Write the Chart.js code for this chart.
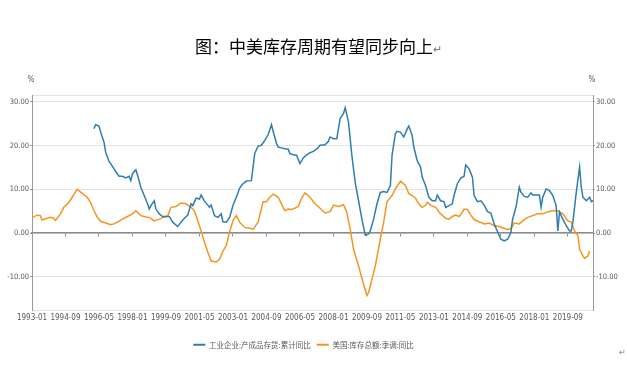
<!DOCTYPE html>
<html><head><meta charset="utf-8">
<script src="https://cdn.jsdelivr.net/npm/chart.js@4"></script>
<style>
html,body{margin:0;padding:0;background:#fff;}
#wrap{position:relative;width:627px;height:383px;overflow:hidden;background:#fff;}
canvas{position:absolute;left:0;top:0;}
#title{position:absolute;left:195px;top:36px;font-family:"Noto Sans CJK SC";font-size:17px;color:#000;white-space:nowrap;line-height:20px;}
#title span{font-size:11px;color:#777;}
#pm{position:absolute;left:619px;top:346px;font-family:"Noto Sans CJK SC";font-size:8px;color:#777;}
</style></head><body>
<div id="wrap"><canvas id="c" width="627" height="383"></canvas>
<div id="title">图：中美库存周期有望同步向上<span>↵</span></div>
<div id="pm">↵</div></div>
<script>
// ---- categories (monthly, 1993-01 .. 2020-12) ----
const months = [];
for (let y = 1993; y <= 2020; y++) for (let m = 1; m <= 12; m++) months.push(y + '-' + String(m).padStart(2, '0'));
const xTickLabels = ['1993-01','1994-09','1996-05','1998-01','1999-09','2001-05','2003-01','2004-09','2006-05','2008-01','2009-09','2011-05','2013-01','2014-09','2016-05','2018-01','2019-09'];
const yTickValues = [-10, 0, 10, 20, 30];

// ---- series 1: 工业企业:产成品存货:累计同比 ----
const cnMonths = ['1996-02','1996-03','1996-05','1996-06','1996-08','1996-09','1996-11','1996-12','1997-02','1997-03','1997-05','1997-07','1997-09','1997-11','1997-12','1998-01','1998-03','1998-04','1998-06','1998-08','1998-10','1998-11','1998-12','1999-02','1999-03','1999-05','1999-07','1999-09','1999-11','2000-01','2000-04','2000-06','2000-08','2000-10','2000-12','2001-01','2001-03','2001-05','2001-06','2001-08','2001-10','2001-11','2001-12','2002-02','2002-04','2002-06','2002-07','2002-09','2002-11','2003-01','2003-03','2003-05','2003-07','2003-09','2003-12','2004-02','2004-04','2004-06','2004-08','2004-10','2004-12','2005-01','2005-03','2005-04','2005-06','2005-08','2005-10','2005-11','2006-01','2006-03','2006-05','2006-07','2006-09','2006-11','2007-01','2007-03','2007-05','2007-08','2007-10','2007-11','2008-01','2008-03','2008-05','2008-07','2008-08','2008-10','2008-12','2009-02','2009-04','2009-06','2009-08','2009-10','2009-11','2010-01','2010-03','2010-05','2010-07','2010-09','2010-11','2010-12','2011-02','2011-03','2011-05','2011-07','2011-09','2011-10','2011-12','2012-01','2012-03','2012-05','2012-06','2012-08','2012-10','2012-12','2013-02','2013-03','2013-05','2013-07','2013-08','2013-10','2013-12','2014-01','2014-03','2014-05','2014-07','2014-08','2014-10','2014-12','2015-01','2015-03','2015-05','2015-07','2015-09','2015-11','2016-01','2016-03','2016-05','2016-07','2016-09','2016-11','2016-12','2017-02','2017-04','2017-05','2017-07','2017-09','2017-11','2017-12','2018-02','2018-04','2018-05','2018-06','2018-08','2018-10','2018-12','2019-02','2019-03','2019-04','2019-06','2019-08','2019-10','2019-11','2019-12','2020-02','2020-04','2020-05','2020-06','2020-08','2020-10','2020-11','2020-12'];
const cnValues = [23.9,24.8,24.5,23.1,20.8,18.5,16.4,15.9,14.7,14.1,13.0,13.0,12.6,13.0,12.0,13.6,14.5,13.3,10.5,8.6,6.7,5.5,6.3,7.4,5.5,4.4,3.8,3.8,3.8,2.5,1.5,2.5,3.4,4.1,6.7,6.3,8.0,7.8,8.7,7.3,6.4,5.9,6.4,4.0,3.6,4.4,2.6,2.5,3.6,6.3,8.2,10.3,11.3,11.9,12.0,18.2,19.9,20.1,21.2,22.5,24.8,23.3,20.5,19.7,19.5,19.3,19.2,18.2,17.9,17.8,15.9,17.2,17.9,18.4,18.7,19.2,20.1,20.2,21.0,22.0,21.6,21.6,26.2,27.4,28.7,25.4,17.8,11.6,7.4,3.2,-0.5,-0.2,0.5,3.2,6.7,9.3,9.5,9.3,10.9,17.8,22.8,23.3,23.1,22.0,23.8,24.5,22.4,19.7,16.6,15.1,12.8,10.9,8.2,7.4,7.4,8.7,7.4,7.2,5.9,6.3,6.7,8.6,11.3,12.6,13.0,15.6,14.7,12.8,8.6,7.2,7.4,6.4,4.9,4.6,2.1,0.3,-1.4,-1.8,-1.4,0.2,3.2,5.9,10.5,9.3,8.4,8.2,9.2,8.7,8.7,8.7,5.9,8.2,10.1,9.7,8.6,6.3,0.5,4.8,3.2,1.7,0.5,0.5,2.5,9.3,15.1,10.5,8.2,7.4,8.2,7.2,7.4];

// ---- series 2: 美国:库存总额:季调:同比 ----
const usMonths = ['1993-01','1993-04','1993-06','1993-07','1993-10','1993-12','1994-02','1994-03','1994-06','1994-08','1994-11','1995-01','1995-04','1995-07','1995-10','1995-12','1996-02','1996-04','1996-06','1996-09','1996-12','1997-02','1997-04','1997-07','1997-10','1998-01','1998-03','1998-06','1998-09','1998-11','1999-02','1999-05','1999-08','1999-10','1999-12','2000-03','2000-06','2000-09','2000-12','2001-02','2001-04','2001-06','2001-08','2001-10','2001-12','2002-03','2002-05','2002-07','2002-09','2002-11','2003-01','2003-03','2003-05','2003-08','2003-11','2004-01','2004-04','2004-07','2004-09','2004-11','2005-01','2005-04','2005-06','2005-08','2005-10','2005-12','2006-02','2006-04','2006-06','2006-08','2006-11','2007-02','2007-05','2007-08','2007-11','2008-01','2008-04','2008-07','2008-09','2008-11','2009-01','2009-04','2009-07','2009-09','2009-10','2009-12','2010-02','2010-05','2010-07','2010-09','2010-12','2011-02','2011-05','2011-08','2011-10','2011-12','2012-02','2012-04','2012-06','2012-08','2012-09','2012-11','2013-02','2013-05','2013-08','2013-10','2013-12','2014-02','2014-04','2014-06','2014-07','2014-09','2014-11','2015-01','2015-04','2015-07','2015-10','2016-01','2016-04','2016-07','2016-09','2016-11','2017-01','2017-04','2017-06','2017-09','2017-12','2018-03','2018-06','2018-09','2018-12','2019-03','2019-06','2019-09','2019-11','2020-01','2020-03','2020-04','2020-06','2020-07','2020-09','2020-10'];
const usValues = [3.5,4.1,4.0,3.0,3.4,3.6,3.4,2.9,4.4,5.9,7.0,8.2,10.0,9.1,8.2,7.0,5.1,3.6,2.7,2.3,1.9,2.1,2.5,3.2,3.8,4.4,5.1,4.0,3.7,3.6,2.8,3.2,3.7,3.9,5.9,6.1,6.9,6.7,5.9,5.1,2.8,0.5,-2.1,-4.4,-6.4,-6.6,-6.0,-4.1,-2.9,0.3,2.8,4.0,2.5,1.3,1.1,0.9,2.5,7.2,7.2,8.2,8.9,8.2,6.7,5.1,5.5,5.4,5.7,6.1,8.0,9.2,8.2,6.7,5.7,4.6,4.9,6.4,6.1,6.5,4.8,0.9,-3.7,-7.5,-11.7,-14.3,-13.6,-10.6,-7.5,-1.4,2.5,7.2,8.6,10.1,11.9,10.9,9.0,8.6,8.0,6.7,5.9,6.3,7.0,6.4,5.9,4.4,3.4,3.2,3.8,4.1,3.8,4.8,5.5,5.4,4.1,3.1,2.6,2.1,2.3,1.7,1.5,1.1,0.8,1.1,2.3,2.1,2.8,3.6,4.0,4.4,4.4,4.9,5.1,5.1,4.4,2.8,2.5,0.5,-0.6,-3.7,-5.2,-5.8,-5.2,-4.1];

const Y_MIN = -17.6, Y_MAX = 31.6;
const NARROW = '"Liberation Sans Narrow", "DejaVu Sans Condensed", "Liberation Sans", sans-serif';
const CJK = '"Noto Sans CJK SC", sans-serif';
const isEdge = v => v === Y_MIN || v === Y_MAX;
const yTicks = s => { s.ticks = [Y_MIN, ...yTickValues, Y_MAX].map(v => ({value: v})); };
const xTicks = s => { s.ticks = xTickLabels.map(l => ({value: months.indexOf(l)})); };
const yTickOpts = {color: '#595959', font: {family: NARROW, size: 7.5}, padding: 1, callback: v => isEdge(v) ? '' : v.toFixed(2)};

const pctPlugin = {
  id: 'pct',
  afterDraw(chart) {
    const {ctx, chartArea} = chart;
    ctx.save();
    ctx.font = '8px ' + NARROW;
    ctx.fillStyle = '#595959';
    ctx.textAlign = 'center';
    ctx.textBaseline = 'middle';
    ctx.fillText('%', chartArea.left - 1, chartArea.top - 15);
    ctx.fillText('%', chartArea.right - 1, chartArea.top - 15);
    ctx.restore();
  }
};
const legendShift = {
  id: 'legendShift',
  afterLayout(chart) { const l = chart.legend; if (l) { l.left -= 10; l.right -= 10; } }
};

new Chart(document.getElementById('c'), {
  type: 'line',
  data: {
    datasets: [
      {label: '工业企业:产成品存货:累计同比', data: cnMonths.map((m, i) => ({x: m, y: cnValues[i]})),
       borderColor: '#2F7DB2', backgroundColor: '#2F7DB2', borderWidth: 1.5, pointRadius: 0, tension: 0, xAxisID: 'x', yAxisID: 'y'},
      {label: '美国:库存总额:季调:同比', data: usMonths.map((m, i) => ({x: m, y: usValues[i]})),
       borderColor: '#F7941E', backgroundColor: '#F7941E', borderWidth: 1.5, pointRadius: 0, tension: 0, xAxisID: 'x', yAxisID: 'y'}
    ]
  },
  options: {
    responsive: false, animation: false, devicePixelRatio: 1,
    layout: {padding: {top: 95, bottom: 24.5, left: 0, right: 0}},
    plugins: {
      title: {display: false}, tooltip: {enabled: false},
      legend: {position: 'bottom', labels: {boxWidth: 12, boxHeight: 2, padding: 6, color: '#595959', font: {family: CJK, size: 7.5},
        generateLabels: chart => Chart.defaults.plugins.legend.labels.generateLabels(chart).map(it => Object.assign(it, {lineWidth: 0, fillStyle: it.strokeStyle}))}}
    },
    scales: {
      x: {type: 'category', labels: months, offset: false, grid: {display: false, drawTicks: false}, border: {display: false},
          ticks: {autoSkip: false, maxRotation: 0, color: '#595959', font: {family: NARROW, size: 8}, padding: 3},
          afterBuildTicks: xTicks, afterFit: s => { s.height = 25; }},
      x0: {type: 'category', labels: months, offset: false, position: {y: 0},
           grid: {drawOnChartArea: false, tickLength: 3, color: '#8c8c8c'}, border: {color: '#8c8c8c', width: 1.5},
           ticks: {display: false}, afterBuildTicks: xTicks},
      y: {position: 'left', min: Y_MIN, max: Y_MAX, afterBuildTicks: yTicks, afterFit: s => { s.width = 32; },
          grid: {color: '#e4e4e4', lineWidth: 1, tickLength: 2, tickColor: c => isEdge(c.tick.value) ? 'rgba(0,0,0,0)' : '#999'},
          border: {color: '#999', width: 1}, ticks: yTickOpts},
      y1: {position: 'right', min: Y_MIN, max: Y_MAX, afterBuildTicks: yTicks, afterFit: s => { s.width = 34; },
           grid: {drawOnChartArea: false, tickLength: 2, tickColor: c => isEdge(c.tick.value) ? 'rgba(0,0,0,0)' : '#999'},
           border: {color: '#999', width: 1}, ticks: yTickOpts}
    }
  },
  plugins: [pctPlugin, legendShift]
});
</script>
</body></html>
